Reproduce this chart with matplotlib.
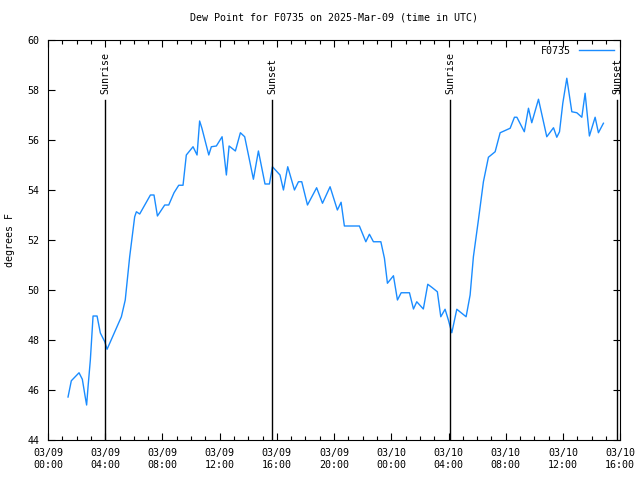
import numpy as np
import pandas as pd
import matplotlib
matplotlib.use('Agg')
import matplotlib.pyplot as plt
import matplotlib.dates as mdates

# hours since 2025-03-09 00:00 UTC
hours = [1.40, 1.63, 2.17, 2.40, 2.60, 2.70, 2.80, 2.96, 3.15, 3.43, 3.66, 3.97, 4.13,
         5.13, 5.40, 5.71, 6.06, 6.18, 6.41, 7.16, 7.41, 7.65, 8.16, 8.44, 8.81, 9.14,
         9.44, 9.67, 10.14, 10.42, 10.60, 10.76, 11.24, 11.42, 11.77, 12.17, 12.47,
         12.66, 13.10, 13.45, 13.75, 14.06, 14.36, 14.71, 15.17, 15.48, 15.69, 16.22,
         16.46, 16.76, 17.23, 17.51, 17.74, 18.14, 18.78, 19.19, 19.72, 20.23, 20.49,
         20.72, 21.77, 22.22, 22.47, 22.75, 23.27, 23.52, 23.73, 24.15, 24.43, 24.69,
         25.27, 25.55, 25.78, 26.24, 26.55, 26.85, 27.22, 27.46, 27.76, 27.99, 28.23,
         28.58, 29.23, 29.51, 29.74, 30.09, 30.44, 30.79, 31.26, 31.61, 32.31, 32.61,
         32.78, 33.30, 33.59, 33.82, 34.29, 34.87, 35.34, 35.57, 35.76, 35.99, 36.27,
         36.62, 36.97, 37.32, 37.55, 37.85, 38.25, 38.48, 38.83]
dewpoint = [45.72, 46.37, 46.69, 46.43, 45.73, 45.40, 46.13, 47.20, 48.96, 48.96, 48.28,
            47.93, 47.63, 48.93, 49.60, 51.33, 52.93, 53.13, 53.04, 53.80, 53.80, 52.96,
            53.40, 53.40, 53.89, 54.19, 54.19, 55.40, 55.73, 55.40, 56.76, 56.47, 55.40,
            55.73, 55.76, 56.13, 54.60, 55.76, 55.56, 56.29, 56.13, 55.27, 54.43, 55.56,
            54.24, 54.24, 54.93, 54.60, 54.00, 54.93, 54.00, 54.33, 54.33, 53.40, 54.09,
            53.47, 54.13, 53.20, 53.51, 52.56, 52.56, 51.93, 52.23, 51.93, 51.93, 51.27,
            50.27, 50.57, 49.60, 49.89, 49.89, 49.24, 49.53, 49.24, 50.23, 50.10, 49.93,
            48.93, 49.23, 48.80, 48.29, 49.23, 48.93, 49.80, 51.33, 52.80, 54.33, 55.31,
            55.53, 56.29, 56.47, 56.91, 56.91, 56.33, 57.27, 56.69, 57.63, 56.13, 56.49,
            56.11, 56.33, 57.47, 58.47, 57.13, 57.09, 56.91, 57.87, 56.16, 56.91, 56.29,
            56.67]

sun_hours = [3.98, 15.67, 28.10, 39.80]
sun_labels = ['Sunrise', 'Sunset', 'Sunrise', 'Sunset']

base = pd.Timestamp('2025-03-09 00:00')
times = base + pd.to_timedelta(hours, unit='h')
sun_times = base + pd.to_timedelta(sun_hours, unit='h')

plt.rcParams['font.family'] = 'DejaVu Sans Mono'
plt.rcParams['font.size'] = 7.2

fig = plt.figure(figsize=(6.4, 4.8), dpi=100)
ax = fig.add_axes([0.075, 0.0833, 0.894, 0.8334])

ax.plot(times, dewpoint, color='#1a8cff', linewidth=1.0, label='F0735')

for t, lab in zip(sun_times, sun_labels):
    ax.plot([t, t], [44, 57.6], color='black', linewidth=1.0)
    ax.text(t, 57.85, lab, rotation=90, ha='center', va='bottom', fontsize=7.2)

ax.set_xlim(base, base + pd.Timedelta(hours=40))
ax.set_ylim(44, 60)
ax.set_yticks(np.arange(44, 61, 2))
ax.xaxis.set_major_locator(mdates.HourLocator(byhour=range(0, 24, 4)))
ax.xaxis.set_minor_locator(mdates.HourLocator())
ax.xaxis.set_major_formatter(mdates.DateFormatter('%m/%d\n%H:%M'))
ax.tick_params(which='both', direction='in', top=True, right=True, width=0.8)
ax.tick_params(which='major', length=5, pad=6)
ax.tick_params(which='minor', length=3)
ax.tick_params(axis='x', which='major', pad=6)

ax.set_ylabel('degrees F', labelpad=9)
ax.set_title('Dew Point for F0735 on 2025-Mar-09 (time in UTC)', fontsize=7.2, pad=14)

ax.legend(loc='upper right', frameon=False, markerfirst=False, handlelength=3.5,
          borderaxespad=0.2, fontsize=7.2)

fig.savefig('out.png', dpi=100)
